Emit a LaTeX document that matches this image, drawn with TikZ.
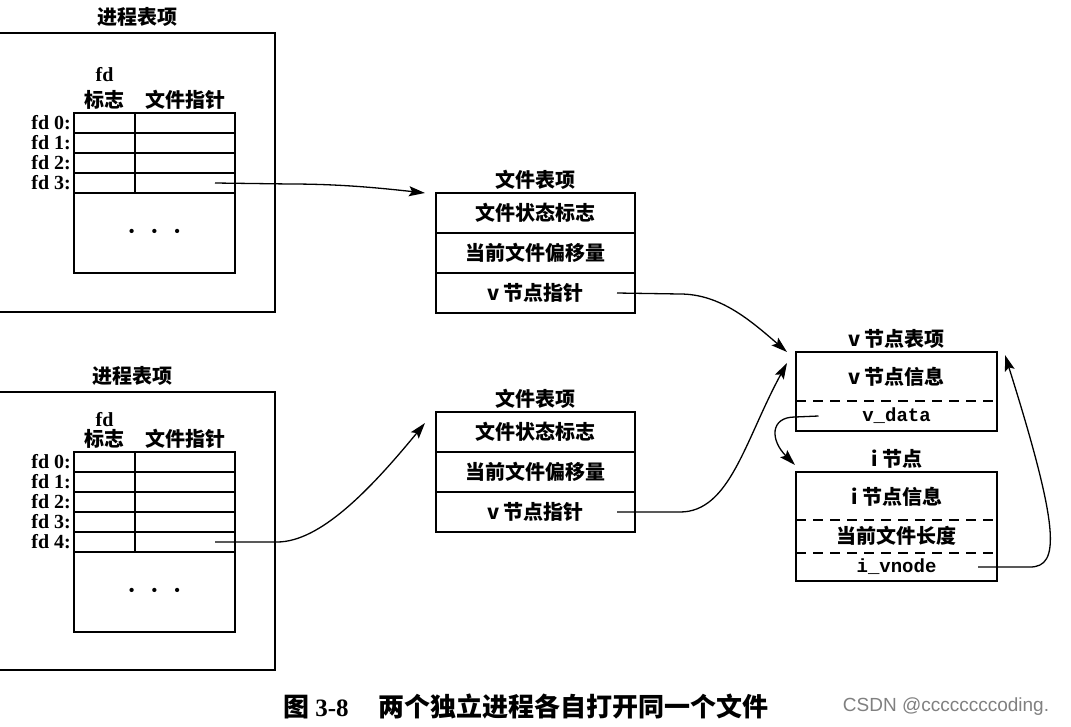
\documentclass[tikz,border=0pt]{standalone}
\usepackage{fontspec}
\setmonofont{Liberation Mono}
\newfontfamily\cjk{Noto Sans CJK SC}
\newfontfamily\latinserif{Liberation Serif}
\newfontfamily\wmark{Liberation Sans}
\usetikzlibrary{arrows.meta}
\usetikzlibrary{positioning}

\newcommand{\cjktext}{\cjk\bfseries\fontsize{20}{24}\selectfont}
\newcommand{\fdtext}{\latinserif\bfseries\fontsize{20}{24}\selectfont}
\newcommand{\monotext}{\ttfamily\bfseries\fontsize{19}{22}\selectfont}
\newcommand{\threedots}{{\fontsize{19}{19}\selectfont\textbullet\hspace{9pt}\textbullet\hspace{9pt}\textbullet}}

\begin{document}
\begin{tikzpicture}[x=1pt, y=-1pt]

        \def\d{0pt}

        % Looks of the tables, their cells and the pointers
        \tikzset{
            procframe/.style={draw, line width=1.6pt, inner sep=0pt, outer sep=0pt},
            flagcell/.style={draw, line width=1.4pt, minimum width=61pt, minimum height=20pt, inner sep=0pt, outer sep=0pt},
            ptrcell/.style={flagcell, minimum width=100pt},
            restcell/.style={flagcell, minimum width=161pt, minimum height=80pt},
            fdlabel/.style={font=\fdtext, inner sep=1pt},
            tabletitle/.style={font=\cjktext},
            ftrow/.style={draw, line width=1.6pt, minimum width=199pt, minimum height=40pt, inner sep=0pt, outer sep=0pt, font=\cjktext},
            vtext/.style={font=\cjktext, inner sep=0pt},
            codetext/.style={font=\monotext, inner sep=0pt},
            divider/.style={line width=1.4pt, dash pattern=on 10pt off 7pt},
            ptr/.style={line width=1.3pt, -{Stealth[length=16pt, width=10pt, inset=3pt]}},
        }

        \useasboundingbox[fill=white] (0,0) rectangle (1071,726);

        % Process table entry, top
        \node[procframe, minimum width=285pt, minimum height=279pt] (pa) at (132.5,172.5) {};
        \node[tabletitle, above=3pt of pa, xshift=5pt] {进程表项};
        \foreach \i in {0,...,3} {
            \node[flagcell] (pa-flag\i) at (104.5,{123+20*\i}) {};
            \node[ptrcell, right=\d of pa-flag\i] (pa-ptr\i) {};
            \node[fdlabel, left=2pt of pa-flag\i] {fd \i:};
        }
        \node[restcell, below right=\d and \d of pa-flag3.south west] (pa-rest) {\threedots};
        \node[tabletitle, above=\d of pa-flag0] (pa-flaghead) {标志};
        \node[tabletitle, above=\d of pa-ptr0] {文件指针};
        \node[fdlabel, above=4pt of pa-flaghead] {fd};
        \coordinate (pa-out) at ([xshift=30pt]pa-ptr3.center);

        % Process table entry, bottom
        \node[procframe, minimum width=285pt, minimum height=278pt] (pb) at (132.5,531) {};
        \node[tabletitle, above=3pt of pb] {进程表项};
        \foreach \i in {0,...,4} {
            \node[flagcell] (pb-flag\i) at (104.5,{462+20*\i}) {};
            \node[ptrcell, right=\d of pb-flag\i] (pb-ptr\i) {};
            \node[fdlabel, left=2pt of pb-flag\i] {fd \i:};
        }
        \node[restcell, below right=\d and \d of pb-flag4.south west] (pb-rest) {\threedots};
        \node[tabletitle, above=\d of pb-flag0] (pb-flaghead) {标志};
        \node[tabletitle, above=\d of pb-ptr0] {文件指针};
        \node[fdlabel, above=-2pt of pb-flaghead] {fd};
        \coordinate (pb-out) at ([xshift=30pt]pb-ptr4.center);

        % File table entries
        \node[ftrow] (fa-flags) at (535.5,213) {文件状态标志};
        \node[ftrow, below=\d of fa-flags] (fa-offset) {当前文件偏移量};
        \node[ftrow, below=\d of fa-offset] (fa-vptr) {v 节点指针};
        \node[tabletitle, above=\d of fa-flags] {文件表项};
        \coordinate (fa-out) at ([xshift=81.5pt]fa-vptr.center);
        \coordinate (fa-in) at ([xshift=-11pt]fa-flags.north west);

        \node[ftrow] (fb-flags) at (535.5,432) {文件状态标志};
        \node[ftrow, below=\d of fb-flags] (fb-offset) {当前文件偏移量};
        \node[ftrow, below=\d of fb-offset] (fb-vptr) {v 节点指针};
        \node[tabletitle, above=\d of fb-flags] {文件表项};
        \coordinate (fb-out) at ([xshift=81.5pt]fb-vptr.center);
        \coordinate (fb-in) at ([shift={(-11pt,-11pt)}]fb-flags.north west);

        % v-node table entry
        \node[procframe, minimum width=201pt, minimum height=79pt] (vn) at (896.5,391.5) {};
        \node[tabletitle, above=\d of vn] {v 节点表项};
        \node[vtext] (vn-info) at (896.5,377) {v 节点信息};
        \node[codetext] (vn-data) at (896.5,416) {v\_data};
        \draw[divider] (796,401) -- (997,401);
        \coordinate (vn-out) at ([xshift=-78pt]vn-data.center);
        \coordinate (vn-ina) at ([xshift=-9pt]vn.north west);
        \coordinate (vn-inb) at ([shift={(-9pt,-11pt)}]vn.north west);
        \coordinate (vn-inc) at ([shift={(8pt,-3pt)}]vn.north east);

        % i-node
        \node[procframe, minimum width=201pt, minimum height=109pt] (in) at (896.5,526.5) {};
        \node[tabletitle, above=\d of in] {i 节点};
        \node[vtext] (in-info) at (896.5,497) {i 节点信息};
        \node[vtext] (in-size) at (896.5,536) {当前文件长度};
        \node[codetext] (in-vnode) at (896.5,567) {i\_vnode};
        \draw[divider] (796,520) -- (997,520);
        \draw[divider] (796,553) -- (997,553);
        \coordinate (in-out) at ([xshift=81.5pt]in-vnode.center);
        \coordinate (in-in) at ([shift={(-1pt,7pt)}]in.north west);

        % Pointers
        \begin{scope}[ptr]
            \draw (pa-out) -- (290,184) .. controls (340,184) and (380,188) .. (fa-in);
            \draw (pb-out) -- (277,542) .. controls (320,542) and (370,490) .. (fb-in);
            \draw (fa-out) -- (680,294) .. controls (720,294) and (750,320) .. (vn-ina);
            \draw (fb-out) -- (680,512) .. controls (730,512) and (745,440) .. (vn-inb);
            \draw (vn-out) -- (795,417) .. controls (770,417) and (770,440) .. (in-in);
            \draw (in-out) -- (1030,567) .. controls (1060,567) and (1060,530) .. (vn-inc);
        \end{scope}

        % Caption and watermark
        \node (caption) at (526,706) {{\cjk\bfseries\fontsize{26}{30}\selectfont 图}\hspace{6pt}{\latinserif\bfseries\fontsize{25}{30}\selectfont 3-8}\hspace{30pt}{\cjk\bfseries\fontsize{26}{30}\selectfont 两个独立进程各自打开同一个文件}};
        \node[text=gray] (wm) at (946,707) {\wmark\fontsize{19}{22}\selectfont CSDN @ccccccccoding.};

\end{tikzpicture}
\end{document}
